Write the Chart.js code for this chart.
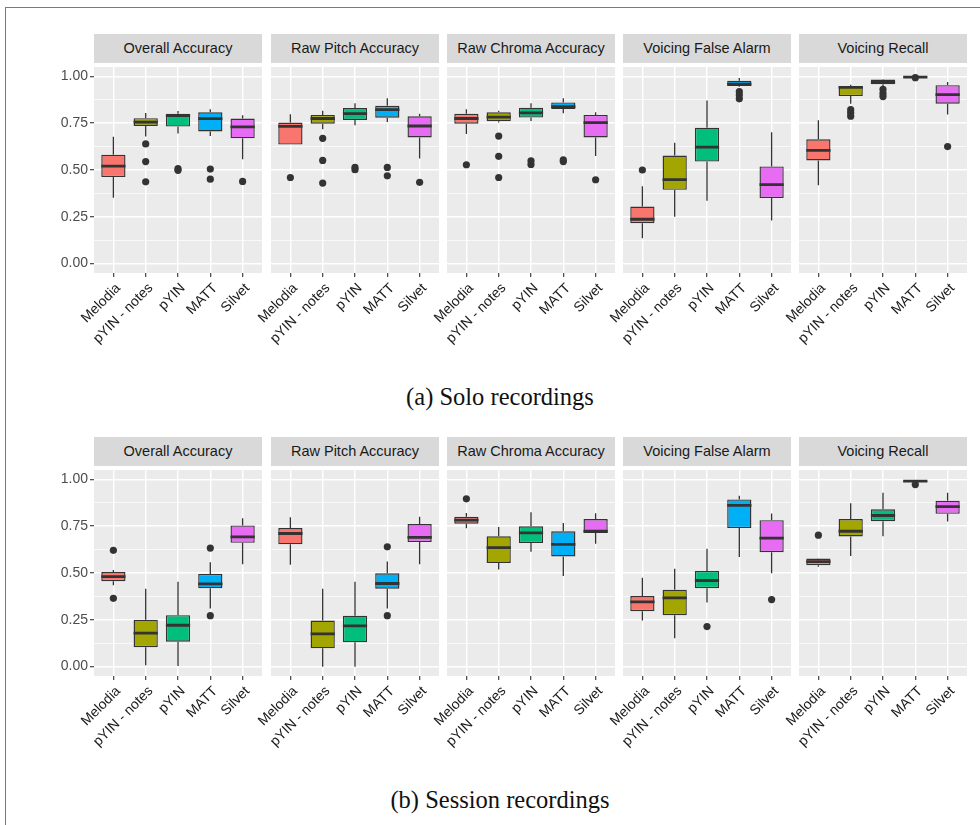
<!DOCTYPE html>
<html>
<head>
<meta charset="utf-8">
<script src="https://cdn.jsdelivr.net/npm/chart.js@4.4.1/dist/chart.umd.min.js"></script>
<style>
  body { margin: 0; background: #fff; width: 980px; height: 825px; overflow: hidden; position: relative; font-family: 'Liberation Sans', Arial, sans-serif; }
  .frame { position: absolute; left: 5px; top: 7px; width: 990px; height: 840px; border-left: 1.5px solid #7a7a7a; border-top: 1.5px solid #7a7a7a; }
  .strip { position: absolute; width: 168px; height: 29px; line-height: 29px; background: #D9D9D9; color: #1a1a1a; font-size: 14.5px; text-align: center; }
  .caption { position: absolute; left: 300px; width: 400px; text-align: center; font-family: 'Liberation Serif', 'Times New Roman', serif; font-size: 24.5px; line-height: 28px; color: #111; }
  canvas { position: absolute; }
</style>
</head>
<body>
<div class="frame"></div>
<div class="caption" style="top:383px">(a) Solo recordings</div>
<div class="caption" style="top:786px">(b) Session recordings</div>
<script>
const categories = ['Melodia', 'pYIN - notes', 'pYIN', 'MATT', 'Silvet'];
const metrics = ['Overall Accuracy', 'Raw Pitch Accuracy', 'Raw Chroma Accuracy', 'Voicing False Alarm', 'Voicing Recall'];
const colors = ['#F8766D', '#A3A500', '#00BF7D', '#00B0F6', '#E76BF3'];
const yTicks = [0, 0.25, 0.5, 0.75, 1];
const yMinor = [0.125, 0.375, 0.625, 0.875];

// each system: [lower whisker, q1, median, q3, upper whisker]
const soloOverall = [[0.352, 0.462, 0.521, 0.582, 0.678], [0.679, 0.735, 0.756, 0.777, 0.805], [0.695, 0.732, 0.790, 0.800, 0.815], [0.681, 0.706, 0.774, 0.808, 0.824], [0.557, 0.669, 0.730, 0.775, 0.793]];
const soloOverallOut = [[], [0.639, 0.545, 0.437], [0.507, 0.498], [0.505, 0.451], [0.439]];
const soloPitch = [[0.636, 0.636, 0.733, 0.753, 0.798], [0.718, 0.747, 0.775, 0.794, 0.817], [0.739, 0.767, 0.801, 0.831, 0.857], [0.756, 0.779, 0.822, 0.843, 0.883], [0.561, 0.674, 0.735, 0.787, 0.800]];
const soloPitchOut = [[0.460], [0.669, 0.551, 0.430], [0.514, 0.502], [0.514, 0.469], [0.434]];
const soloChroma = [[0.692, 0.747, 0.775, 0.800, 0.824], [0.753, 0.760, 0.782, 0.808, 0.817], [0.761, 0.780, 0.805, 0.833, 0.857], [0.803, 0.826, 0.838, 0.861, 0.883], [0.575, 0.674, 0.753, 0.794, 0.808]];
const soloChromaOut = [[0.528], [0.681, 0.573, 0.460], [0.549, 0.530], [0.554, 0.545], [0.448]];
const soloFalseAlarm = [[0.136, 0.216, 0.237, 0.305, 0.413], [0.251, 0.394, 0.449, 0.577, 0.646], [0.336, 0.545, 0.622, 0.726, 0.871], [0.944, 0.949, 0.958, 0.977, 0.991], [0.230, 0.350, 0.422, 0.519, 0.702]];
const soloFalseAlarmOut = [[0.500], [], [], [0.918, 0.900, 0.880], []];
const soloRecall = [[0.418, 0.551, 0.605, 0.664, 0.765], [0.854, 0.895, 0.941, 0.948, 0.955], [0.944, 0.958, 0.969, 0.983, 0.986], [0.993, 0.994, 0.996, 0.998, 1.000], [0.796, 0.854, 0.902, 0.953, 0.970]];
const soloRecallOut = [[], [0.822, 0.805, 0.787], [0.930, 0.909, 0.892], [0.993], [0.625]];

const sessOverall = [[0.435, 0.456, 0.481, 0.505, 0.516], [0.007, 0.104, 0.179, 0.251, 0.416], [0.004, 0.133, 0.221, 0.275, 0.453], [0.311, 0.418, 0.442, 0.495, 0.558], [0.547, 0.661, 0.693, 0.754, 0.793]];
const sessOverallOut = [[0.621, 0.365], [], [], [0.633, 0.272], []];
const sessPitch = [[0.544, 0.653, 0.711, 0.740, 0.798], [0.000, 0.098, 0.175, 0.246, 0.416], [0.000, 0.130, 0.218, 0.272, 0.453], [0.311, 0.416, 0.444, 0.498, 0.561], [0.547, 0.665, 0.690, 0.761, 0.800]];
const sessPitchOut = [[], [], [], [0.640, 0.272], []];
const sessChroma = [[0.739, 0.763, 0.782, 0.800, 0.821], [0.519, 0.554, 0.635, 0.696, 0.746], [0.614, 0.660, 0.714, 0.749, 0.825], [0.484, 0.588, 0.653, 0.723, 0.767], [0.656, 0.714, 0.723, 0.788, 0.819]];
const sessChromaOut = [[0.896], [], [], [], []];
const sessFalseAlarm = [[0.247, 0.296, 0.346, 0.377, 0.475], [0.151, 0.275, 0.367, 0.411, 0.523], [0.342, 0.419, 0.460, 0.511, 0.630], [0.586, 0.740, 0.861, 0.893, 0.912], [0.498, 0.611, 0.686, 0.782, 0.818]];
const sessFalseAlarmOut = [[], [], [0.214], [], [0.358]];
const sessRecall = [[0.533, 0.542, 0.561, 0.577, 0.579], [0.591, 0.695, 0.723, 0.788, 0.872], [0.696, 0.777, 0.807, 0.840, 0.928], [0.986, 0.987, 0.991, 0.994, 0.996], [0.775, 0.816, 0.854, 0.886, 0.928]];
const sessRecallOut = [[0.702], [], [], [0.972], []];

const rows = [
    { stripTop: 34, plotTop: 63, boxes: [soloOverall, soloPitch, soloChroma, soloFalseAlarm, soloRecall], outliers: [soloOverallOut, soloPitchOut, soloChromaOut, soloFalseAlarmOut, soloRecallOut] },
    { stripTop: 437, plotTop: 466, boxes: [sessOverall, sessPitch, sessChroma, sessFalseAlarm, sessRecall], outliers: [sessOverallOut, sessPitchOut, sessChromaOut, sessFalseAlarmOut, sessRecallOut] }
];
const panelLeft = [94, 271, 447, 623, 799];
const panelW = 168, plotH = 210, xAxisH = 95;

Chart.defaults.font.family = "'Liberation Sans', Arial, sans-serif";

// grey panel background behind the grid
const panelBg = {
    id: 'panelBg',
    beforeDraw(chart) {
        const a = chart.chartArea, ctx = chart.ctx;
        ctx.save();
        ctx.fillStyle = '#EBEBEB';
        ctx.fillRect(a.left, a.top, a.right - a.left, a.bottom - a.top);
        ctx.restore();
    }
};

function noPadding(s) {
    s.paddingLeft = 0; s.paddingRight = 0; s.paddingTop = 0; s.paddingBottom = 0;
}

function makePanel(row, col) {
    const stats = row.boxes[col], outs = row.outliers[col];
    const yW = col === 0 ? 60 : 0;
    const padL = col === 0 ? 0 : 45;
    const canvas = document.createElement('canvas');
    const w = padL + yW + panelW + 4, h = plotH + xAxisH;
    canvas.width = w; canvas.height = h;
    canvas.style.width = w + 'px'; canvas.style.height = h + 'px';
    canvas.style.left = (panelLeft[col] - yW - padL) + 'px';
    canvas.style.top = row.plotTop + 'px';
    document.body.appendChild(canvas);

    const strip = document.createElement('div');
    strip.className = 'strip';
    strip.style.left = panelLeft[col] + 'px';
    strip.style.top = row.stripTop + 'px';
    strip.textContent = metrics[col];
    document.body.appendChild(strip);

    const whiskers = [], medians = [], points = [];
    stats.forEach((s, i) => {
        whiskers.push({x: i, y: s[0]}, {x: i, y: s[1]}, {x: i, y: null}, {x: i, y: s[3]}, {x: i, y: s[4]}, {x: i, y: null});
        medians.push({x: i - 0.375, y: s[2]}, {x: i + 0.375, y: s[2]}, {x: i, y: null});
        outs[i].forEach(v => points.push({x: i, y: v}));
    });

    new Chart(canvas, {
        type: 'bar',
        data: {
            datasets: [
                {
                    type: 'line', data: whiskers, borderColor: '#333333', borderWidth: 1.3,
                    pointRadius: 0, spanGaps: false, order: 3
                },
                {
                    data: stats.map((s, i) => ({x: i, y: [s[1], s[3]]})),
                    backgroundColor: colors, borderColor: '#333333', borderWidth: 1.4,
                    borderSkipped: false, barPercentage: 0.75, categoryPercentage: 1, order: 2
                },
                {
                    type: 'line', data: medians, borderColor: '#333333', borderWidth: 2.8,
                    pointRadius: 0, spanGaps: false, order: 1
                },
                {
                    type: 'scatter', data: points, backgroundColor: '#333333', borderWidth: 0,
                    pointRadius: 3.6, order: 0
                }
            ]
        },
        options: {
            responsive: false,
            animation: false,
            events: [],
            layout: { padding: { left: padL, right: 4, top: 0, bottom: 0 } },
            plugins: { legend: { display: false }, tooltip: { enabled: false } },
            scales: {
                x: {
                    type: 'linear', min: -0.6, max: 4.6, bounds: 'data', offset: false,
                    afterBuildTicks: s => { s.ticks = categories.map((c, i) => ({value: i})); },
                    afterFit: s => { s.height = xAxisH; noPadding(s); },
                    ticks: {
                        autoSkip: false, minRotation: 45, maxRotation: 45, padding: 3, labelOffset: 5,
                        color: '#1a1a1a', font: { size: 14 },
                        callback: v => categories[v]
                    },
                    grid: { offset: false, color: '#ffffff', lineWidth: 1.4, tickLength: 4, tickColor: '#333333', tickWidth: 1.1 },
                    border: { display: false }
                },
                y: {
                    min: -0.05, max: 1.05, bounds: 'data',
                    afterBuildTicks: s => { s.ticks = yTicks.concat(yMinor).sort().map(v => ({value: v})); },
                    afterFit: s => { s.width = yW; noPadding(s); },
                    ticks: {
                        display: col === 0, autoSkip: false, padding: 2,
                        color: '#4d4d4d', font: { size: 14 },
                        callback: v => yTicks.includes(v) ? v.toFixed(2) : ''
                    },
                    grid: {
                        color: '#ffffff',
                        lineWidth: c => yTicks.includes(c.tick.value) ? 1.4 : 0.7,
                        drawTicks: col === 0, tickLength: 4, tickWidth: 1.1,
                        tickColor: c => yTicks.includes(c.tick.value) ? '#333333' : 'rgba(0,0,0,0)'
                    },
                    border: { display: false }
                }
            }
        },
        plugins: [panelBg]
    });
}

rows.forEach(row => {
    for (let col = 0; col < metrics.length; col++) makePanel(row, col);
});
</script>
</body>
</html>
